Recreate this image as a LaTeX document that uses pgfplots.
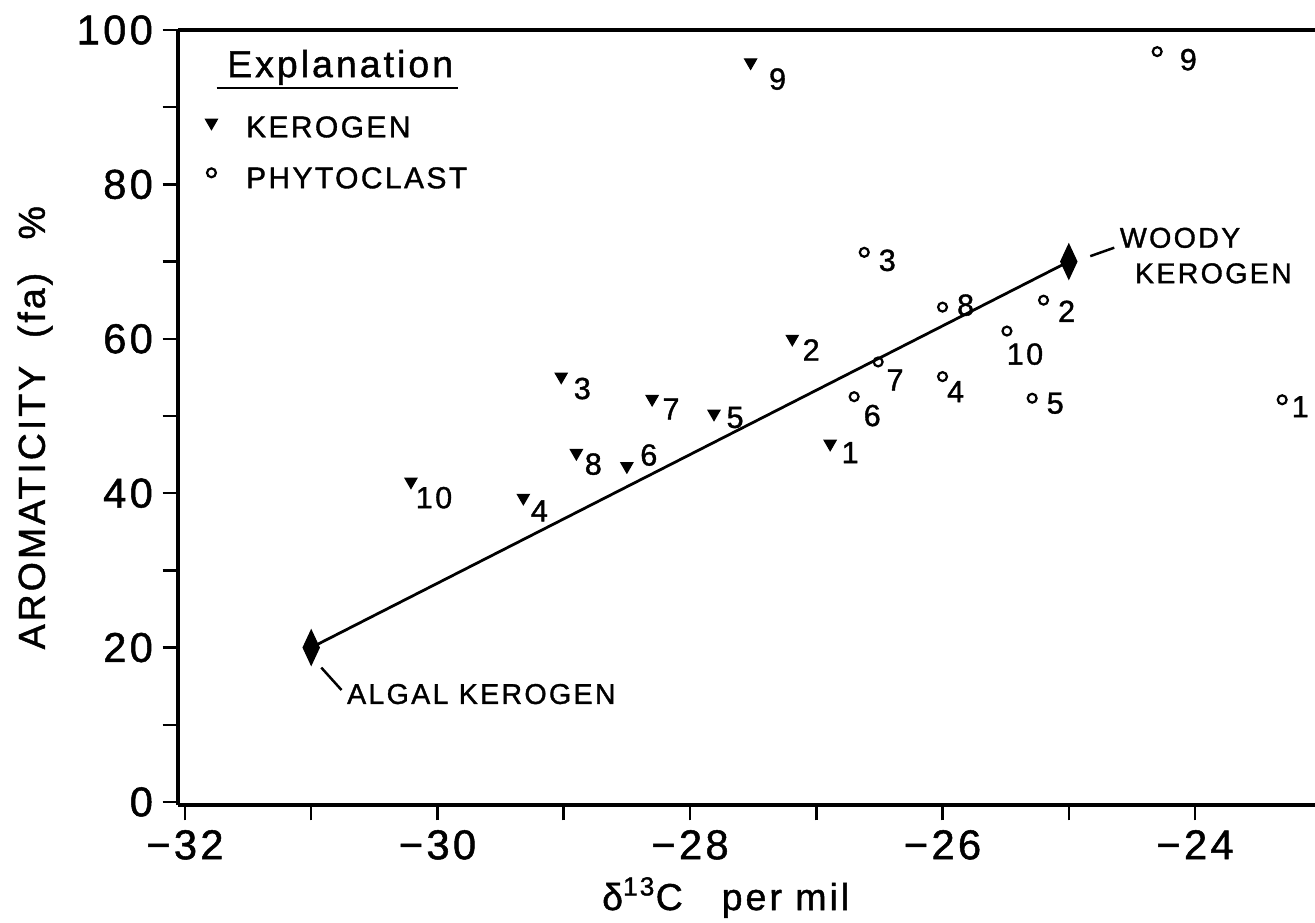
\documentclass[border=0pt]{standalone}
\usepackage{fontspec}
\setmainfont{Liberation Sans}[LetterSpace=8, FakeBold=1.2]
\usepackage{pgfplots}
\pgfplotsset{compat=1.18}

\newcommand\lblfont{\fontsize{11}{13}\selectfont}
\newcommand\txtfont{\fontsize{10.3}{12}\selectfont}
\newcommand\keyfont{\fontsize{10.8}{13}\selectfont}

\pgfplotsset{
  kerogen/.style={only marks, mark=triangle*, mark size=2.5pt,
    mark options={rotate=180, fill=black, draw=black}},
  phyto/.style={only marks, mark=o, mark size=1.6pt,
    mark options={draw=black, line width=0.8pt}},
  numbered/.style={point meta=explicit symbolic, nodes near coords,
    visualization depends on={value \thisrow{dx}\as\ldx},
    visualization depends on={value \thisrow{dy}\as\ldy},
    every node near coord/.append style={anchor=center, inner sep=0pt,
      xshift=\ldx pt, yshift=\ldy pt, font=\lblfont, text=black}},
}

\begin{document}
\begin{tikzpicture}
\begin{axis}[
  scale only axis,
  width=409.3pt, height=279pt,
  xmin=-32.055, xmax=-23.05,
  ymin=-0.4, ymax=100,
  axis lines=left,
  axis line style={-, line width=1.2pt},
  tick align=outside,
  major tick length=5.5pt, minor tick length=5.5pt,
  tick style={black, line width=0.9pt},
  xtick={-32,-30,-28,-26,-24},
  xticklabels={−32,−30,−28,−26,−24},
  minor xtick={-31,-29,-27,-25},
  ytick={0,20,40,60,80,100},
  minor ytick={10,30,50,70,90},
  /pgf/number format/assume math mode=true,
  ticklabel style={font=\fontsize{15}{17}\selectfont},
  clip=false,
]

% kerogen samples
\addplot[kerogen, numbered] table[x=x, y=y, meta=lab] {
x y lab dx dy
-27.52 95.8 9 9.7 -6.0
-27.19 60.0 2 6.8 -4.0
-29.02 55.1 3 7.6 -4.3
-28.30 52.2 7 6.8 -3.6
-27.81 50.3 5 7.6 -1.4
-28.90 45.2 8 6.1 -4.0
-28.50 43.5 6 7.9 4.0
-26.89 46.4 1 7.2 -3.2
-30.21 41.5 10 8.3 -5.8
-29.32 39.4 4 5.8 -4.7
};

% phytoclast samples
\addplot[phyto, numbered] table[x=x, y=y, meta=lab] {
x y lab dx dy
-24.30 97.2 9 11.2 -2.9
-26.62 71.2 3 8.3 -2.9
-26.00 64.1 8 8.3 0.7
-25.20 65.0 2 8.3 -4.0
-25.49 61.0 10 6.5 -8.3
-26.51 57.0 7 6.1 -6.5
-26.00 55.1 4 4.7 -5.4
-25.29 52.3 5 8.3 -1.8
-26.70 52.5 6 6.5 -6.8
-23.31 52.1 1 6.5 -2.5
};

% mixing line between end members
\addplot[black, line width=1pt] coordinates {(-31,20) (-25,70)};
\addplot[only marks, mark=diamond*, mark size=6.3pt,
  mark options={xscale=0.62, fill=black, draw=black}]
  coordinates {(-31,20) (-25,70)};

\draw[line width=0.9pt] (axis cs:-30.92,17.4) -- (axis cs:-30.76,14.5);
\node[anchor=base west, inner sep=0pt, font=\txtfont] at (axis cs:-30.72,12.7) {ALGAL KEROGEN};
\draw[line width=0.9pt] (axis cs:-24.83,70.7) -- (axis cs:-24.64,71.8);
\node[anchor=base west, inner sep=0pt, font=\txtfont] at (axis cs:-24.60,71.8) {WOODY};
\node[anchor=base west, inner sep=0pt, font=\txtfont] at (axis cs:-24.48,67.2) {KEROGEN};

% explanation box
\node[anchor=base west, inner sep=0pt, font=\fontsize{13.5}{16}\selectfont] at (axis cs:-31.67,93.9) {Explanation};
\draw[line width=0.9pt] (axis cs:-31.75,92.5) -- (axis cs:-29.84,92.5);
\addplot[kerogen] coordinates {(-31.79,88.0)};
\addplot[phyto] coordinates {(-31.79,81.5)};
\node[anchor=base west, inner sep=0pt, font=\keyfont] at (axis cs:-31.52,86.1) {KEROGEN};
\node[anchor=base west, inner sep=0pt, font=\keyfont] at (axis cs:-31.52,79.5) {PHYTOCLAST};

% axis titles
\node[anchor=base west, inner sep=0pt, rotate=90, font=\fontsize{13.5}{16}\selectfont]
  at (axis cs:-33.11,19.7) {AROMATICITY\hspace{10pt}(fa)\hspace{12pt}\%};
\node[anchor=base west, inner sep=0pt, font=\fontsize{13.5}{16}\selectfont]
  at (axis cs:-28.70,-14.0) {δ\textsuperscript{13}C\hspace{14pt}per mil};
\end{axis}
\draw[line width=1.2pt] (current axis.north west) -- (current axis.north east);
\pgfresetboundingbox
\path[use as bounding box] ([shift={(-64.08pt,-42.12pt)}]current axis.south west)
  rectangle ([shift={(0pt,10.8pt)}]current axis.north east);
\end{tikzpicture}
\end{document}
